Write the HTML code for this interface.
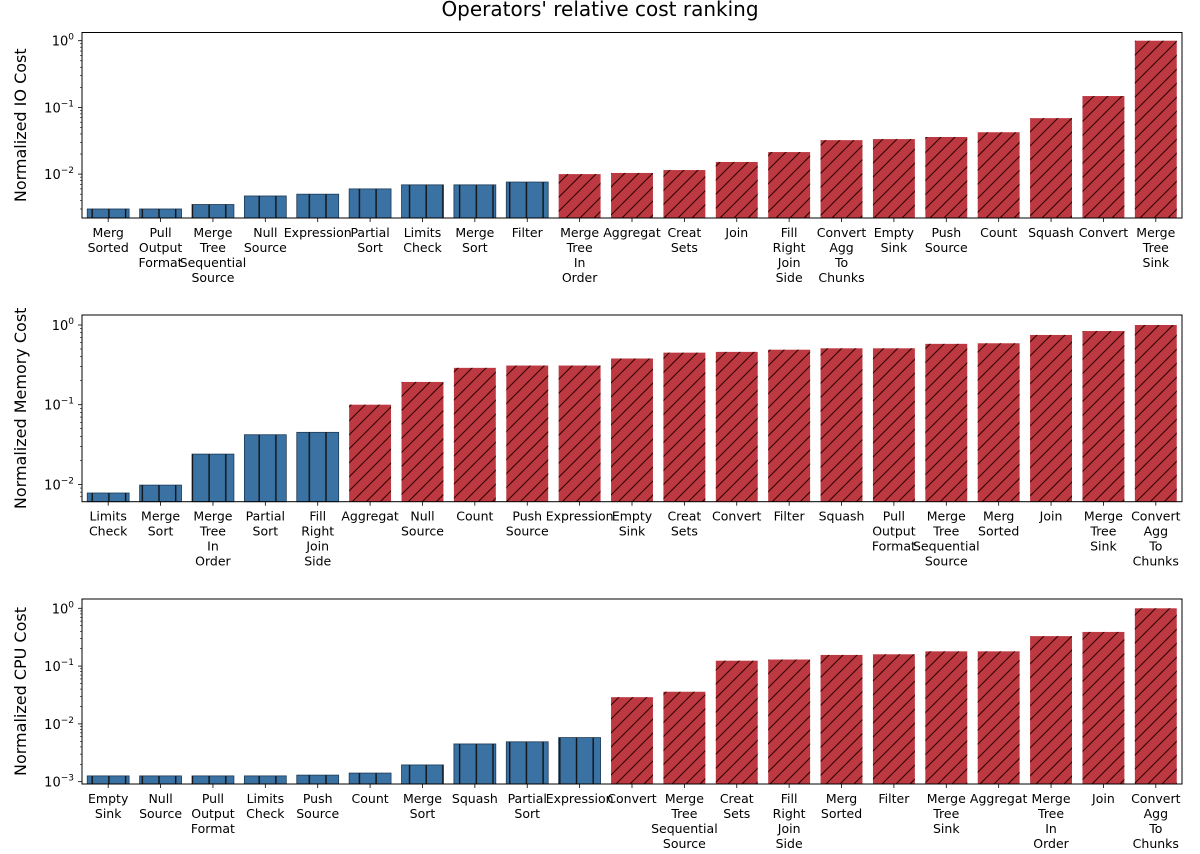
<!DOCTYPE html>
<html><head><meta charset="utf-8"><style>
body{margin:0;background:#fff;}
svg{display:block;font-family:"DejaVu Sans","Liberation Sans",sans-serif;}
</style></head><body>
<svg id="chart" width="1200" height="854" xmlns="http://www.w3.org/2000/svg">
<defs>
<pattern id="hatchV" patternUnits="userSpaceOnUse" width="16.7" height="10" x="0.7">
<line x1="8" y1="0" x2="8" y2="10" stroke="#111" stroke-width="1.4"/>
</pattern>
<pattern id="hatchD" patternUnits="userSpaceOnUse" width="14" height="14">
<path d="M-3,3 L3,-3 M0,14 L14,0 M11,17 L17,11" stroke="#300" stroke-width="1.1"/>
</pattern>
</defs>
<text x="600" y="16" text-anchor="middle" font-size="20">Operators' relative cost ranking</text>
</svg>
<script>
const ioLabels=["Merg\nSorted","Pull\nOutput\nFormat","Merge\nTree\nSequential\nSource","Null\nSource","Expression","Partial\nSort","Limits\nCheck","Merge\nSort","Filter","Merge\nTree\nIn\nOrder","Aggregat","Creat\nSets","Join","Fill\nRight\nJoin\nSide","Convert\nAgg\nTo\nChunks","Empty\nSink","Push\nSource","Count","Squash","Convert","Merge\nTree\nSink"];
const ioValues=[0.0030,0.0030,0.0035,0.0047,0.0050,0.0060,0.0069,0.0069,0.0076,0.0100,0.0104,0.0115,0.0152,0.0214,0.0323,0.0335,0.036,0.0424,0.069,0.148,1.0];
const ioBlue=9;
const memLabels=["Limits\nCheck","Merge\nSort","Merge\nTree\nIn\nOrder","Partial\nSort","Fill\nRight\nJoin\nSide","Aggregat","Null\nSource","Count","Push\nSource","Expression","Empty\nSink","Creat\nSets","Convert","Filter","Squash","Pull\nOutput\nFormat","Merge\nTree\nSequential\nSource","Merg\nSorted","Join","Merge\nTree\nSink","Convert\nAgg\nTo\nChunks"];
const memValues=[0.0078,0.0098,0.024,0.042,0.045,0.10,0.193,0.29,0.31,0.31,0.38,0.45,0.46,0.49,0.51,0.51,0.58,0.59,0.75,0.84,1.0];
const memBlue=5;
const cpuLabels=["Empty\nSink","Null\nSource","Pull\nOutput\nFormat","Limits\nCheck","Push\nSource","Count","Merge\nSort","Squash","Partial\nSort","Expression","Convert","Merge\nTree\nSequential\nSource","Creat\nSets","Fill\nRight\nJoin\nSide","Merg\nSorted","Filter","Merge\nTree\nSink","Aggregat","Merge\nTree\nIn\nOrder","Join","Convert\nAgg\nTo\nChunks"];
const cpuValues=[0.00126,0.00126,0.00126,0.00126,0.0013,0.00141,0.00195,0.0045,0.0049,0.0058,0.029,0.036,0.124,0.13,0.156,0.16,0.18,0.18,0.33,0.39,1.0];
const cpuBlue=10;

const NS="http://www.w3.org/2000/svg";
const svg=document.getElementById('chart');
function mk(tag,attrs,parent){const e=document.createElementNS(NS,tag);for(const k in attrs)e.setAttribute(k,attrs[k]);(parent||svg).appendChild(e);return e;}

const panels=[
 {key:'io',labels:ioLabels,values:ioValues,blue:ioBlue,top:32.5,bottom:218,y0:40.7,dec:66.7,ticks:[0,-1,-2],title:'Normalized IO Cost'},
 {key:'memory',labels:memLabels,values:memValues,blue:memBlue,top:315,bottom:501.7,y0:325,dec:79.7,ticks:[0,-1,-2],title:'Normalized Memory Cost'},
 {key:'cpu',labels:cpuLabels,values:cpuValues,blue:cpuBlue,top:599,bottom:784,y0:608.3,dec:57.8,ticks:[0,-1,-2,-3],title:'Normalized CPU Cost'}
];
const L=82,R=1182;
panels.forEach(p=>{
 const g=mk('g',{});
 
 
 const n=p.values.length, slot=(R-L)/n;
 const xc=i=>L+slot*(i+0.5);
 const ys=v=>p.y0-p.dec*Math.log10(v);
 p.values.forEach((v,i)=>{
  const blue=i<p.blue;
  const y=Math.max(ys(v),p.top), w=slot*0.8;
  const b=mk('rect',{x:xc(i)-w/2,y:y,width:w,height:p.bottom-y,fill:blue?'#3a72a3':'#bd3941',stroke:blue?'#1d3a55':'none','stroke-width':0.8},g);
  
  
  mk('rect',{x:xc(i)-w/2,y:y,width:w,height:p.bottom-y,fill:blue?'url(#hatchV)':'url(#hatchD)'},g);
  mk('line',{x1:xc(i),x2:xc(i),y1:p.bottom,y2:p.bottom+4,stroke:'#000','stroke-width':0.8},g);
  const t=mk('text',{x:xc(i),y:p.bottom+19,'text-anchor':'middle','font-size':'12.5'},g);
  
  
  p.labels[i].split('\n').forEach((ln,k)=>{const s=mk('tspan',{x:xc(i),dy:k?15:0},t);s.textContent=ln;});
 });
 p.ticks.forEach(e=>{
  const y=p.y0-p.dec*e;
  mk('line',{x1:L-4,x2:L,y1:y,y2:y,stroke:'#000','stroke-width':0.8},g);
  const t=mk('text',{x:L-8,y:y+5,'text-anchor':'end','font-size':'13'},g);
  
  
  const a=mk('tspan',{},t);a.textContent='10';
  const s=mk('tspan',{dy:-6,'font-size':'9'},t);s.textContent=e===0?'0':'\u2212'+(-e);
 });
 for(let e=-4;e<0;e++)for(let m=2;m<10;m++){
  const y=ys(m*Math.pow(10,e));
  if(y>p.top&&y<p.bottom)mk('line',{x1:L-2,x2:L,y1:y,y2:y,stroke:'#000','stroke-width':0.6},g);
 }
 mk('rect',{x:L,y:p.top,width:R-L,height:p.bottom-p.top,fill:'none',stroke:'#000','stroke-width':1},g);
 const cy=(p.top+p.bottom)/2;
 const yt=mk('text',{x:0,y:0,transform:`translate(26,${cy}) rotate(-90)`,'text-anchor':'middle','font-size':'16'},g);
 
 
 yt.textContent=p.title;
});
</script>
</body></html>
